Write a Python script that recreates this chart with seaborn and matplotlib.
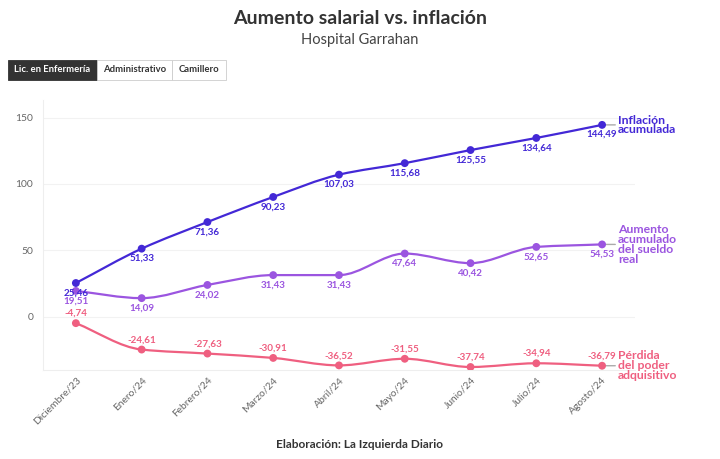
"""
Aumento salarial vs. inflación - Hospital Garrahan
"""
import numpy as np
import pandas as pd
import matplotlib
matplotlib.use("Agg")
import matplotlib.pyplot as plt
from matplotlib.path import Path
from matplotlib.patches import PathPatch, Rectangle
import seaborn as sns

# datos
meses = ['Diciembre/23', 'Enero/24', 'Febrero/24', 'Marzo/24', 'Abril/24',
         'Mayo/24', 'Junio/24', 'Julio/24', 'Agosto/24']
inflacion = [25.46, 51.33, 71.36, 90.23, 107.03, 115.68, 125.55, 134.64, 144.49]
sueldo_real = [19.51, 14.09, 24.02, 31.43, 31.43, 47.64, 40.42, 52.65, 54.53]
perdida = [-4.74, -24.61, -27.63, -30.91, -36.52, -31.55, -37.74, -34.94, -36.79]

series = [
    ('Inflación\nacumulada', inflacion, '#4328d6', 'below'),
    ('Aumento\nacumulado\ndel sueldo\nreal', sueldo_real, '#9b55e0', 'below'),
    ('Pérdida\ndel poder\nadquisitivo', perdida, '#ef5f80', 'above'),
]

sns.set_style("white")
plt.rcParams['font.family'] = ['Lato', 'DejaVu Sans']


def monotone_path(x, y):
    """curva monotona (estilo d3 curveMonotoneX) como path Bezier"""
    x = np.asarray(x, float)
    y = np.asarray(y, float)
    n = len(x)
    h = np.diff(x)
    d = np.diff(y) / h
    m = np.zeros(n)
    m[0], m[-1] = d[0], d[-1]
    for i in range(1, n - 1):
        if d[i - 1] * d[i] <= 0:
            m[i] = 0
        else:
            w1 = 2 * h[i] + h[i - 1]
            w2 = h[i] + 2 * h[i - 1]
            m[i] = (w1 + w2) / (w1 / d[i - 1] + w2 / d[i])
    verts = [(x[0], y[0])]
    codes = [Path.MOVETO]
    for i in range(n - 1):
        dx = h[i] / 3
        verts += [(x[i] + dx, y[i] + m[i] * dx),
                  (x[i + 1] - dx, y[i + 1] - m[i + 1] * dx),
                  (x[i + 1], y[i + 1])]
        codes += [Path.CURVE4] * 3
    return Path(verts, codes)


fig = plt.figure(figsize=(7.2, 4.59), dpi=100)
ax = fig.add_axes([0.0597, 0.1939, 0.8222, 0.5876])

xs = np.arange(len(meses))
for nombre, valores, color, pos in series:
    ax.add_patch(PathPatch(monotone_path(xs, valores), fill=False,
                           edgecolor=color, lw=1.6, zorder=3))
    df = pd.DataFrame({'x': xs, 'y': valores})
    sns.scatterplot(data=df, x='x', y='y', color=color, s=32,
                    edgecolor='none', zorder=4, ax=ax)
    dy = -7 if pos == 'below' else 7
    for xi, v in zip(xs, valores):
        ax.annotate(f"{v:.2f}".replace('.', ','), (xi, v),
                    xytext=(0, dy), textcoords='offset points',
                    ha='center', va='center', fontsize=7.1,
                    fontweight='bold', color=color, zorder=5)
    # etiqueta final
    ax.annotate('', (xs[-1], valores[-1]), xytext=(9.5, 0),
                textcoords='offset points',
                arrowprops=dict(arrowstyle='-', color='#aaaaaa', lw=1,
                                shrinkA=0, shrinkB=3))
    ax.annotate(nombre, (xs[-1], valores[-1]), xytext=(11.5, 0),
                textcoords='offset points', ha='left', va='center',
                fontsize=8.8, fontweight='bold', color=color,
                linespacing=0.86, annotation_clip=False)

ax.set_xlim(-0.5, len(meses) - 0.5)
ax.set_ylim(-40, 163)
ax.set_xticks(xs)
ax.set_xticklabels(meses, rotation=45, ha='right', va='top',
                   rotation_mode='anchor', fontsize=7.4, color='#666666')
ax.set_yticks([0, 50, 100, 150])
ax.set_yticklabels(['0', '50', '100', '150'], fontsize=7.4, color='#666666')
ax.tick_params(axis='both', length=0)
ax.tick_params(axis='x', pad=4)
ax.tick_params(axis='y', pad=7)
ax.set_xlabel('')
ax.set_ylabel('')
ax.grid(axis='y', color='#f2f2f2', lw=0.8)
ax.set_axisbelow(True)
for lado in ['top', 'right']:
    ax.spines[lado].set_visible(False)
for lado in ['left', 'bottom']:
    ax.spines[lado].set_color('#eeeeee')
    ax.spines[lado].set_linewidth(0.8)

# titulos
fig.text(0.5, 1 - 19 / 459, 'Aumento salarial vs. inflación', ha='center',
         va='center', fontsize=14, fontweight='bold', color='#333333')
fig.text(0.5, 1 - 40 / 459, 'Hospital Garrahan', ha='center', va='center',
         fontsize=10.5, color='#444444')

# botones
botones = [('Lic. en Enfermería', 8, 97), ('Administrativo', 97, 172),
           ('Camillero', 172, 226)]
for i, (texto, x0, x1) in enumerate(botones):
    activo = i == 0
    fig.add_artist(Rectangle((x0 / 720, 1 - 80 / 459), (x1 - x0) / 720,
                             20 / 459, transform=fig.transFigure,
                             facecolor='#333333' if activo else 'white',
                             edgecolor='#333333' if activo else '#cccccc',
                             lw=0.6))
    fig.text((x0 + x1) / 2 / 720, 1 - 70 / 459, texto, ha='center',
             va='center', fontsize=6.8, fontweight='bold',
             color='white' if activo else '#333333')

fig.text(0.5, 1 - 444 / 459, 'Elaboración: La Izquierda Diario', ha='center',
         va='center', fontsize=8.6, fontweight='bold', color='#333333')

plt.savefig('out.png', dpi=100)
plt.close()
